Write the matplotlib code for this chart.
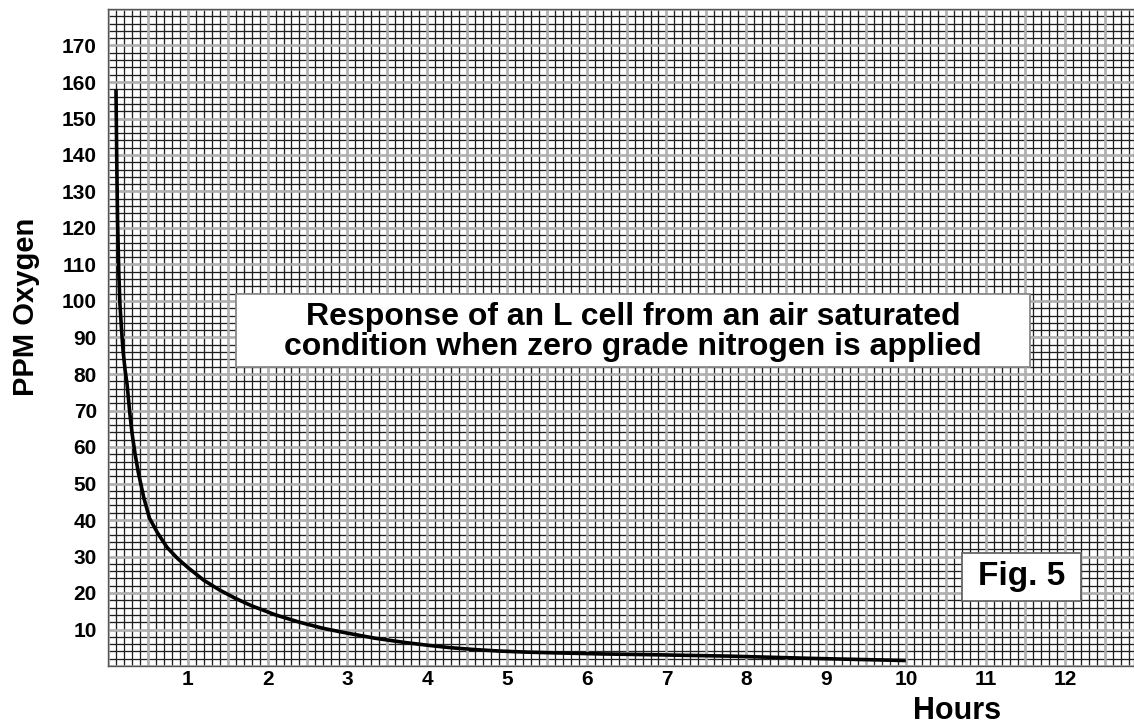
"""Response of an L cell from air saturated condition (Fig. 5)."""
import numpy as np
from matplotlib import pyplot as plt
from matplotlib.patches import Rectangle

# Curve
hours = [0.10, 0.11, 0.12, 0.135, 0.15, 0.17, 0.19, 0.215, 0.24, 0.27,
         0.30, 0.34, 0.38, 0.45, 0.52, 0.62, 0.74, 0.87, 1.0, 1.2, 1.4,
         1.6, 1.8, 2.1, 2.4, 2.7, 3.0, 3.35, 3.7, 4.0, 4.3, 4.6, 4.9,
         5.25, 5.6, 6.2, 6.8, 7.3, 7.8, 8.3, 8.8, 9.4, 10.0]
ppm = [158, 138, 122, 108, 99, 92, 86, 81, 77, 70,
       64, 58, 53, 46, 40.5, 36.5, 32.5, 29.5, 27, 23.5, 20.8,
       18.5, 16.5, 14, 12, 10.3, 9, 7.6, 6.5, 5.7, 5.0, 4.5, 4.1,
       3.8, 3.6, 3.3, 3.1, 2.9, 2.7, 2.4, 2.1, 1.8, 1.5]

x_ticks = list(range(1, 13))
y_ticks = list(range(10, 180, 10))

title = ('Response of an L cell from an air saturated\n'
         'condition when zero grade nitrogen is applied')

plt.rcParams['font.family'] = ['Liberation Sans', 'DejaVu Sans']
plt.rcParams['font.weight'] = 'bold'

fig = plt.figure(figsize=(11.34, 7.27), dpi=100)
ax = fig.add_axes([108 / 1134, 1 - 666 / 727, 1 - 108 / 1134, 657 / 727])

x_max = 12.86
y_max = 180
ax.set_xlim(0, x_max)
ax.set_ylim(0, y_max)

# graph paper: fine black lines, grey every half hour / every 10 ppm
ax.vlines(np.arange(0, x_max, 0.1), 0, y_max, colors='#202020', lw=0.95,
          zorder=1)
ax.hlines(np.arange(0, y_max + 1, 2), 0, x_max, colors='#202020', lw=0.95,
          zorder=1)
ax.vlines(np.arange(0, x_max, 0.5), 0, y_max, colors='#b0b0b0', lw=1.8,
          zorder=1.5)
ax.hlines(np.arange(0, y_max + 1, 10), 0, x_max, colors='#b0b0b0', lw=1.8,
          zorder=1.5)

ax.plot(hours, ppm, color='black', lw=2.6, zorder=3, solid_capstyle='butt')

ax.set_xticks(x_ticks)
ax.set_yticks(y_ticks)
ax.tick_params(length=0, labelsize=15)
ax.tick_params(axis='y', pad=8)
ax.tick_params(axis='x', pad=3)
for lab in ax.get_xticklabels() + ax.get_yticklabels():
    lab.set_fontweight('bold')

for sp in ax.spines.values():
    sp.set_color('#555555')
    sp.set_linewidth(1.0)

ax.set_ylabel('PPM Oxygen', fontsize=21, fontweight='bold', va='center')
ax.yaxis.set_label_coords(-0.080, 0.546)
ax.set_xlabel('Hours', fontsize=22, fontweight='bold', va='baseline')
ax.xaxis.set_label_coords(0.828, -0.0807)

# title box
ax.add_patch(Rectangle((0.1248, 0.455), 0.7738, 0.111,
                       transform=ax.transAxes, fc='white', ec='#8a8a8a',
                       lw=1.3, zorder=4))
ax.text(0.5117, 0.508, title, transform=ax.transAxes, ha='center',
        va='center', fontsize=23, fontweight='bold', linespacing=0.98,
        zorder=5)

# figure number box
ax.add_patch(Rectangle((0.8324, 0.0989), 0.1159, 0.0731,
                       transform=ax.transAxes, fc='white', ec='#666666',
                       lw=1.3, zorder=4))
ax.text(0.8904, 0.1355, 'Fig. 5', transform=ax.transAxes, ha='center',
        va='center', fontsize=24, fontweight='bold', zorder=5)

fig.savefig('out.png', dpi=100)
